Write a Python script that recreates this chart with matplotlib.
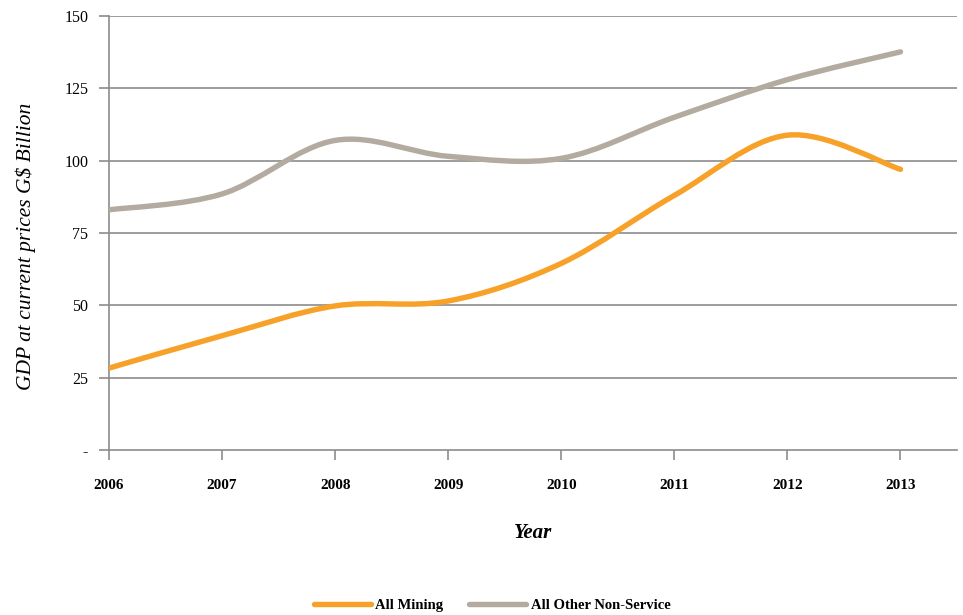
import matplotlib.pyplot as plt
import numpy as np
from matplotlib.path import Path
from matplotlib.patches import PathPatch
from matplotlib.lines import Line2D

plt.rcParams['font.family'] = ['Liberation Serif', 'DejaVu Serif']

years = [2006, 2007, 2008, 2009, 2010, 2011, 2012, 2013]
mining = [28.3, 39.5, 49.8, 51.5, 64.5, 88.0, 108.8, 97.0]
other = [83.0, 88.5, 107.0, 101.5, 100.8, 115.0, 128.0, 137.6]
yticks = [0, 25, 50, 75, 100, 125, 150]
ytick_labels = ['-', '25', '50', '75', '100', '125', '150']


def smooth_path(xs, ys):
    # Catmull-Rom style bezier segments (like Excel's smoothed lines)
    pts = np.column_stack([xs, ys]).astype(float)
    n = len(pts)
    verts = [pts[0]]
    codes = [Path.MOVETO]
    for i in range(n - 1):
        p0 = pts[i - 1] if i > 0 else pts[i]
        p1 = pts[i]
        p2 = pts[i + 1]
        p3 = pts[i + 2] if i + 2 < n else pts[i + 1]
        c1 = p1 + (p2 - p0) / 6.0
        c2 = p2 - (p3 - p1) / 6.0
        verts += [c1, c2, p2]
        codes += [Path.CURVE4] * 3
    return Path(verts, codes)


fig = plt.figure(figsize=(9.63, 6.15), dpi=100)
ax = fig.add_axes([0.1132, 0.2683, 0.8806, 0.7057])

grid_c = '#8c8c8c'
for y in yticks[1:]:
    ax.axhline(y, color=grid_c, lw=1.2, zorder=1)

c_mining = '#F8A128'
c_other = '#B3ABA0'
ax.add_patch(PathPatch(smooth_path(years, other), fill=False, ec=c_other,
                       lw=3.9, capstyle='round', zorder=3))
ax.add_patch(PathPatch(smooth_path(years, mining), fill=False, ec=c_mining,
                       lw=3.9, capstyle='round', zorder=3))

ax.set_xlim(2006, 2013.5)
ax.set_ylim(0, 150)
ax.set_xticks(years)
ax.set_xticklabels([str(y) for y in years], fontsize=11, fontweight='bold')
ax.set_yticks(yticks)
ax.set_yticklabels(ytick_labels, fontsize=11.5)

for s in ['top', 'right']:
    ax.spines[s].set_visible(False)
for s in ['left', 'bottom']:
    ax.spines[s].set_color(grid_c)
    ax.spines[s].set_linewidth(1.2)
ax.tick_params(axis='both', direction='out', length=7, width=1.2,
               color=grid_c, pad=8)
ax.tick_params(axis='x', pad=14)

ax.set_ylabel('GDP at current prices G$ Billion', fontsize=15.5,
              style='italic', labelpad=20)
ax.yaxis.set_label_coords(-0.086, 0.47)
ax.set_xlabel('Year', fontsize=15, style='italic', fontweight='bold',
              labelpad=22)

handles = [Line2D([0], [0], color=c_mining, lw=3.9, solid_capstyle='round'),
           Line2D([0], [0], color=c_other, lw=3.9, solid_capstyle='round')]
fig.legend(handles, ['All Mining', 'All Other Non-Service'], loc='center',
           bbox_to_anchor=(0.511, 0.016), ncol=2, frameon=False,
           prop={'size': 10.5, 'weight': 'bold'}, handlelength=3.9,
           columnspacing=1.8, handletextpad=0.3)

fig.savefig('out.png', dpi=100)
